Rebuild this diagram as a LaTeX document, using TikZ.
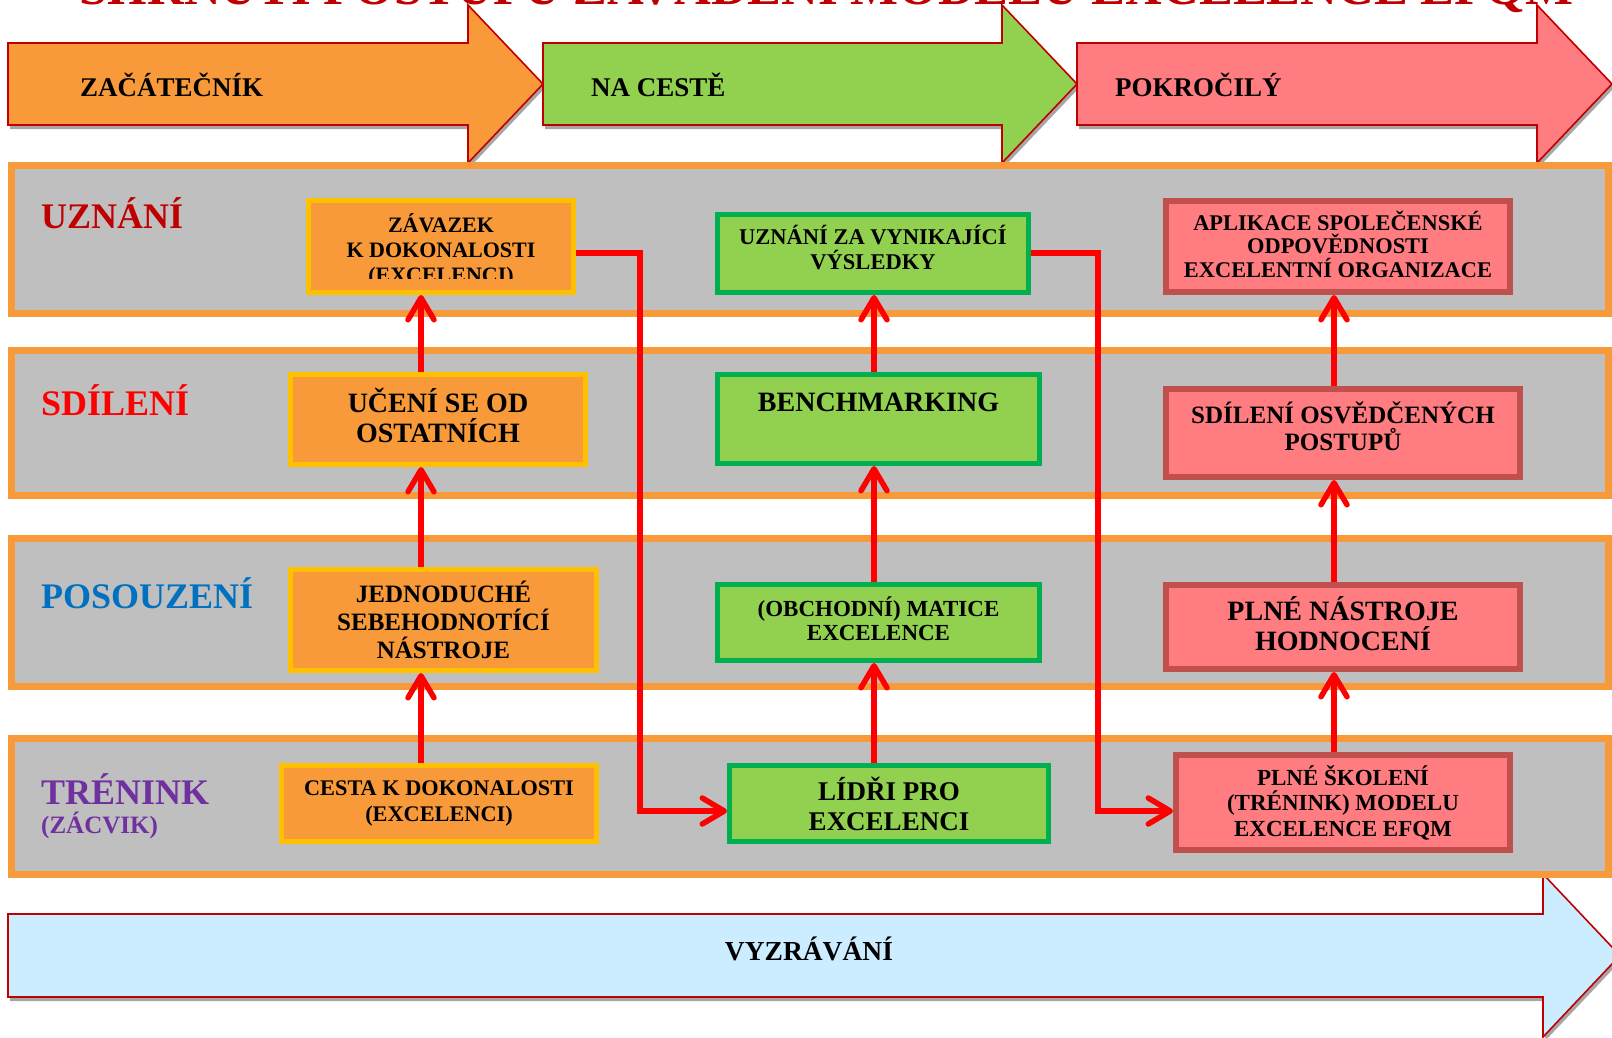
\documentclass[tikz,border=0pt]{standalone}
\usepackage{fontspec}
\setmainfont{Liberation Serif}
\usetikzlibrary{arrows.meta}
\definecolor{bandgray}{HTML}{BFBFBF}
\definecolor{bandor}{HTML}{F89A3A}
\definecolor{orfill}{HTML}{F89A3A}
\definecolor{boxgold}{HTML}{FFC000}
\definecolor{grfill}{HTML}{92D050}
\definecolor{grborder}{HTML}{00B050}
\definecolor{pkfill}{HTML}{FF7C80}
\definecolor{pkborder}{HTML}{C0504D}
\definecolor{ltblue}{HTML}{CCECFF}
\definecolor{dkred}{HTML}{C00000}
\definecolor{arred}{HTML}{FF0000}
\definecolor{shgray}{HTML}{A6A6A6}
\definecolor{lblblue}{HTML}{0070C0}
\definecolor{lblpurple}{HTML}{7030A0}
\begin{document}
\begin{tikzpicture}[x=1pt,y=-1pt,
  band/.style={draw=bandor, fill=bandgray, line width=7pt},
  boxbase/.style={inner sep=0pt, align=center, text=black},
  obox/.style={boxbase, draw=boxgold, fill=orfill, line width=5pt},
  gbox/.style={boxbase, draw=grborder, fill=grfill, line width=5pt},
  pbox/.style={boxbase, draw=pkborder, fill=pkfill, line width=6pt},
  btext/.style={inner sep=0pt, align=center, text=black},
  fs/.style 2 args={font=\bfseries\fontsize{#1}{#2}\selectfont},
  arr/.style={draw=arred, line width=5.5pt, -{Straight Barb[length=22pt, width=26pt, round]}},
  fat/.style={draw=dkred, line width=1.6pt},
  fatshadow/.style={fill=shgray, shift={(2,4)}},
  rowlab/.style={anchor=base west, inner sep=0pt},
  arrtext/.style={anchor=base west, inner sep=0pt, fs={27}{30}},
]
\useasboundingbox (0,0) rectangle (1612,1037);

% title (cut by the top edge)
\node (title) [anchor=base, inner sep=0pt, text=dkred, fs={50.8}{55}] at (826.5,4) {SHRNUTÍ POSTUPU ZAVÁDĚNÍ MODELU EXCELENCE EFQM};

% top stage arrows
\fill[fatshadow] (8,43) -- (468,43) -- (468,5) -- (543,84) -- (468,163) -- (468,125) -- (8,125) -- cycle;
\fill[fatshadow] (543,43) -- (1002,43) -- (1002,5) -- (1077,84) -- (1002,163) -- (1002,125) -- (543,125) -- cycle;
\fill[fatshadow] (1077,43) -- (1537,43) -- (1537,5) -- (1612,84) -- (1537,163) -- (1537,125) -- (1077,125) -- cycle;
\filldraw[fat, fill=orfill] (8,43) -- (468,43) -- (468,5) -- (543,84) -- (468,163) -- (468,125) -- (8,125) -- cycle;
\filldraw[fat, fill=grfill] (543,43) -- (1002,43) -- (1002,5) -- (1077,84) -- (1002,163) -- (1002,125) -- (543,125) -- cycle;
\filldraw[fat, fill=pkfill] (1077,43) -- (1537,43) -- (1537,5) -- (1612,84) -- (1537,163) -- (1537,125) -- (1077,125) -- cycle;
\node (st1) [arrtext] at (80,96.5) {ZAČÁTEČNÍK};
\node (st2) [arrtext] at (591,96.5) {NA CESTĚ};
\node (st3) [arrtext] at (1115,96.5) {POKROČILÝ};

% bottom arrow
\fill[fatshadow] (8,914) -- (1543,914) -- (1543,874) -- (1620,955.5) -- (1543,1037) -- (1543,997) -- (8,997) -- cycle;
\filldraw[fat, fill=ltblue] (8,914) -- (1543,914) -- (1543,874) -- (1620,955.5) -- (1543,1037) -- (1543,997) -- (8,997) -- cycle;
\node (vyz) [anchor=base, inner sep=0pt, fs={27.5}{30}] at (809,960) {VYZRÁVÁNÍ};

% bands
\draw[band] (11,165) rectangle (1608,313);
\draw[band] (11,350) rectangle (1608,495);
\draw[band] (11,538) rectangle (1608,686);
\draw[band] (11,738) rectangle (1608,874);

% row labels
\node (l1) [rowlab, fs={36}{40}, text=dkred] at (41,228) {UZNÁNÍ};
\node (l2) [rowlab, fs={36}{40}, text=arred] at (41,415) {SDÍLENÍ};
\node (l3) [rowlab, fs={36}{40}, text=lblblue] at (41,608) {POSOUZENÍ};
\node (l4) [rowlab, fs={36}{40}, text=lblpurple] at (41,804) {TRÉNINK};
\node (l5) [rowlab, fs={25}{28}, text=lblpurple] at (41,833) {(ZÁCVIK)};

% left column
\node (zav) [obox, minimum width=265pt, minimum height=92pt] at (441,246.5) {};
\begin{scope}
\clip ([xshift=5pt,yshift=-5pt]zav.north west) rectangle ([xshift=-5pt,yshift=17pt]zav.south east);
\node (zavt) [btext, fs={22}{25}] at ([yshift=-3.5pt]zav.center) {ZÁVAZEK\\K DOKONALOSTI\\(EXCELENCI)};
\end{scope}
\node (uce) [obox, minimum width=295pt, minimum height=90pt] at (438,419.5) {};
\node (ucet) [btext, fs={28}{30}] at ([yshift=4.5pt]uce.center) {UČENÍ SE OD\\OSTATNÍCH};
\node (jed) [obox, fs={25}{28}, minimum width=306pt, minimum height=101pt] at (443.5,620) {JEDNODUCHÉ\\SEBEHODNOTÍCÍ\\NÁSTROJE};
\node (ces) [obox, fs={22.3}{26}, minimum width=315pt, minimum height=76pt] at (439,803.5) {CESTA K DOKONALOSTI\\(EXCELENCI)};

% middle column
\node (uzn) [gbox, minimum width=311pt, minimum height=78pt] at (873,253.5) {};
\node (uznt) [btext, fs={22.5}{25}] at ([yshift=6pt]uzn.center) {UZNÁNÍ ZA VYNIKAJÍCÍ\\VÝSLEDKY};
\node (ben) [gbox, minimum width=322pt, minimum height=89pt] at (878.5,419) {};
\node (bent) [btext, fs={28}{30}] at ([yshift=17pt]ben.center) {BENCHMARKING};
\node (mat) [gbox, minimum width=322pt, minimum height=76pt] at (878.5,622.5) {};
\node (matt) [btext, fs={23}{24.5}] at ([yshift=4pt]mat.center) {(OBCHODNÍ) MATICE\\EXCELENCE};
\node (lid) [gbox, fs={27}{30}, minimum width=319pt, minimum height=76pt] at (889,803.5) {LÍDŘI PRO\\EXCELENCI};

% right column
\node (apl) [pbox, minimum width=344pt, minimum height=91pt] at (1338,246.5) {};
\node (aplt) [btext, fs={22.4}{23.5}] at ([yshift=2.5pt]apl.center) {APLIKACE SPOLEČENSKÉ\\ODPOVĚDNOSTI\\EXCELENTNÍ ORGANIZACE};
\node (sdi) [pbox, minimum width=354pt, minimum height=88pt] at (1343,433) {};
\node (sdit) [btext, fs={25}{27}] at ([yshift=7pt]sdi.center) {SDÍLENÍ OSVĚDČENÝCH\\POSTUPŮ};
\node (pln) [pbox, minimum width=354pt, minimum height=84pt] at (1343,627) {};
\node (plnt) [btext, fs={28}{30}] at ([yshift=3pt]pln.center) {PLNÉ NÁSTROJE\\HODNOCENÍ};
\node (sko) [pbox, fs={23}{25.5}, minimum width=334pt, minimum height=95pt] at (1343,802.5) {PLNÉ ŠKOLENÍ\\(TRÉNINK) MODELU\\EXCELENCE EFQM};

% connector guide coordinates
\coordinate (xl) at (421,0);
\coordinate (xm) at (874,0);
\coordinate (xr) at (1334,0);
\coordinate (k1) at (640,253);
\coordinate (k2) at (1098,253);
\coordinate (r1) at (0,811);

% vertical arrows
\draw[arr] (uce.north -| xl) -- (zav.south -| xl);
\draw[arr] (jed.north -| xl) -- (uce.south -| xl);
\draw[arr] (ces.north -| xl) -- (jed.south -| xl);
\draw[arr] (ben.north -| xm) -- (uzn.south -| xm);
\draw[arr] (mat.north -| xm) -- (ben.south -| xm);
\draw[arr] (lid.north -| xm) -- (mat.south -| xm);
\draw[arr] (sdi.north -| xr) -- (apl.south -| xr);
\draw[arr] (pln.north -| xr) -- (sdi.south -| xr);
\draw[arr] (sko.north -| xr) -- (pln.south -| xr);

% elbow arrows
\draw[arr] (zav.east |- k1) -- (k1) |- (lid.west |- r1);
\draw[arr] (uzn.east |- k2) -- (k2) |- (sko.west |- r1);
\end{tikzpicture}
\end{document}
